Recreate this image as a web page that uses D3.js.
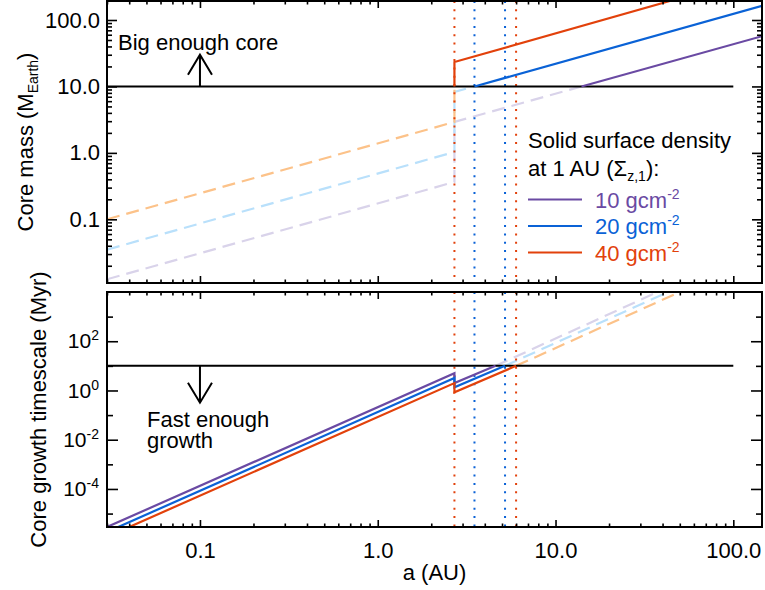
<!DOCTYPE html>
<html>
<head>
<meta charset="utf-8">
<script src="https://cdn.jsdelivr.net/npm/d3@7"></script>
<style>
body { margin: 0; background: #fff; }
svg text { font-family: Helvetica, "Liberation Sans", Arial, sans-serif; fill: #000; }
</style>
</head>
<body>
<div id="chart"></div>
<script>
// axis ticks
const aTicks = [0.1, 1, 10, 100];
const aTickLabels = ['0.1', '1.0', '10.0', '100.0'];
const massTicks = [0.1, 1, 10, 100];
const massTickLabels = ['0.1', '1.0', '10.0', '100.0'];
const timeTicks = [1e-4, 1e-2, 1, 1e2];
const timeTickExps = ['-4', '-2', '0', '2'];
const timeMinorTicks = [1e-5, 1e-3, 1e-1, 10, 1e3];

// solid surface density at 1 AU (g cm^-2)
const sigmaNames = ['10', '20', '40'];

// core mass (M_Earth) vs a (AU); dashed = below 10 M_Earth
const massDashed10 = [[0.03, 0.0125], [2.7, 0.365], [2.7, 2.92], [14, 10]];
const massSolid10 = [[14, 10], [145, 57]];
const massDashed20 = [[0.03, 0.035], [2.7, 1.03], [2.7, 8.3], [3.5, 10]];
const massSolid20 = [[3.5, 10], [145, 163]];
const massDashed40 = [[0.03, 0.10], [2.7, 2.92], [2.7, 10]];
const massSolid40 = [[2.7, 10], [2.7, 23.3], [46, 200]];

// core growth timescale (Myr) vs a (AU); dashed = slower than 10 Myr
const timeSolid10 = [[0.030, 2.85e-6], [2.7, 5.0], [2.7, 2.0], [4.6, 10]];
const timeDashed10 = [[4.6, 10], [37.5, 1e4]];
const timeSolid20 = [[0.0347, 2.85e-6], [2.7, 3.2], [2.7, 1.35], [5.2, 10]];
const timeDashed20 = [[5.2, 10], [43, 1e4]];
const timeSolid40 = [[0.040, 2.85e-6], [2.7, 2.0], [2.7, 0.85], [6.0, 10]];
const timeDashed40 = [[6.0, 10], [50, 1e4]];

// dotted markers (AU) and which series they belong to
const markerA = [2.7, 3.5, 5.2, 6.0];
const markerSeries = ['40', '20', '20', '40'];

const massLimit = 10;   // M_Earth
const timeLimit = 10;   // Myr
const limitEnd = 100;   // AU

const colors = {'10': '#6a4aa3', '20': '#0a62d6', '40': '#e2410b'};
const faded = {'10': '#d9d3ea', '20': '#b9e0fb', '40': '#fcc289'};

const width = 765, height = 590;
const left = 107, right = 762;
const top1 = 1, bot1 = 283, top2 = 292, bot2 = 527;
const fontSize = 22;

const svg = d3.select('#chart').append('svg')
	.attr('width', width)
	.attr('height', height);

const x = d3.scaleLog().domain([0.03, 145]).range([left, right]);
const yMass = d3.scaleLog().domain([0.011, 200]).range([bot1, 0]);
const yTime = d3.scaleLog().domain([2.85e-6, 1e4]).range([bot2, top2]);

// clip each panel
const defs = svg.append('defs');
defs.append('clipPath').attr('id', 'clip1').append('rect')
	.attr('x', left).attr('y', top1).attr('width', right - left).attr('height', bot1 - top1);
defs.append('clipPath').attr('id', 'clip2').append('rect')
	.attr('x', left).attr('y', top2).attr('width', right - left).attr('height', bot2 - top2);

function drawPanel(id, y, y0, y1, dashed, solid, limit) {
	const g = svg.append('g');
	const plot = g.append('g').attr('clip-path', 'url(#' + id + ')');
	const line = d3.line().x(d => x(d[0])).y(d => y(d[1]));

	// faded dashed parts
	sigmaNames.forEach(s => {
		plot.append('path')
			.datum(dashed[s])
			.attr('d', line)
			.attr('fill', 'none')
			.attr('stroke', faded[s])
			.attr('stroke-width', 2.2)
			.attr('stroke-dasharray', '13,7');
	});

	// dotted vertical markers
	markerA.forEach((a, i) => {
		plot.append('line')
			.attr('x1', x(a)).attr('x2', x(a))
			.attr('y1', y0).attr('y2', y1)
			.attr('stroke', colors[markerSeries[i]])
			.attr('stroke-width', 2)
			.attr('stroke-dasharray', '2,6.3');
	});

	// threshold line
	plot.append('line')
		.attr('x1', left).attr('x2', x(limitEnd))
		.attr('y1', y(limit)).attr('y2', y(limit))
		.attr('stroke', '#000')
		.attr('stroke-width', 2);

	sigmaNames.forEach(s => {
		plot.append('path')
			.datum(solid[s])
			.attr('d', line)
			.attr('fill', 'none')
			.attr('stroke', colors[s])
			.attr('stroke-width', 2.2);
	});
	return g;
}

const g1 = drawPanel('clip1', yMass, top1, bot1,
	{'10': massDashed10, '20': massDashed20, '40': massDashed40},
	{'10': massSolid10, '20': massSolid20, '40': massSolid40}, massLimit);
const g2 = drawPanel('clip2', yTime, top2, bot2,
	{'10': timeDashed10, '20': timeDashed20, '40': timeDashed40},
	{'10': timeSolid10, '20': timeSolid20, '40': timeSolid40}, timeLimit);

// axes, IDL style with inward ticks on all four sides
const xMinor = x.ticks().filter(d => !aTicks.some(t => Math.abs(t - d) / t < 1e-6));

function styleAxis(sel) {
	sel.select('.domain').remove();
	sel.selectAll('line').attr('stroke', '#000').attr('stroke-width', 1.6);
	sel.attr('font-family', null).attr('font-size', fontSize);
}

function xAxes(g, y0, y1, labels) {
	g.append('g').attr('transform', 'translate(0,' + y1 + ')')
		.call(d3.axisBottom(x).tickValues(aTicks).tickSize(-7).tickPadding(15)
			.tickFormat((d, i) => labels ? aTickLabels[i] : ''))
		.call(styleAxis);
	g.append('g').attr('transform', 'translate(0,' + y1 + ')')
		.call(d3.axisBottom(x).tickValues(xMinor).tickSize(-3.5).tickFormat(''))
		.call(styleAxis);
	g.append('g').attr('transform', 'translate(0,' + y0 + ')')
		.call(d3.axisTop(x).tickValues(aTicks).tickSize(-7).tickFormat(''))
		.call(styleAxis);
	g.append('g').attr('transform', 'translate(0,' + y0 + ')')
		.call(d3.axisTop(x).tickValues(xMinor).tickSize(-3.5).tickFormat(''))
		.call(styleAxis);
}
xAxes(g1, top1, bot1, false);
xAxes(g2, top2, bot2, true);

// core mass y axes
const massMinor = yMass.ticks().filter(d => !massTicks.some(t => Math.abs(t - d) / t < 1e-6));
g1.append('g').attr('transform', 'translate(' + left + ',0)')
	.call(d3.axisLeft(yMass).tickValues(massTicks).tickSize(-10).tickPadding(7)
		.tickFormat((d, i) => massTickLabels[i]))
	.call(styleAxis);
g1.append('g').attr('transform', 'translate(' + left + ',0)')
	.call(d3.axisLeft(yMass).tickValues(massMinor).tickSize(-5).tickFormat(''))
	.call(styleAxis);
g1.append('g').attr('transform', 'translate(' + right + ',0)')
	.call(d3.axisRight(yMass).tickValues(massTicks).tickSize(-10).tickFormat(''))
	.call(styleAxis);
g1.append('g').attr('transform', 'translate(' + right + ',0)')
	.call(d3.axisRight(yMass).tickValues(massMinor).tickSize(-5).tickFormat(''))
	.call(styleAxis);

// timescale y axes
const timeAxis = g2.append('g').attr('transform', 'translate(' + left + ',0)')
	.call(d3.axisLeft(yTime).tickValues(timeTicks).tickSize(-11).tickPadding(8).tickFormat(''))
	.call(styleAxis);
timeAxis.selectAll('.tick text').each(function (d, i) {
	const t = d3.select(this).attr('font-size', 21);
	t.append('tspan').text('10');
	t.append('tspan').attr('dy', -8).attr('font-size', 14).text(timeTickExps[i]);
});
g2.append('g').attr('transform', 'translate(' + left + ',0)')
	.call(d3.axisLeft(yTime).tickValues(timeMinorTicks).tickSize(-6).tickFormat(''))
	.call(styleAxis);
g2.append('g').attr('transform', 'translate(' + right + ',0)')
	.call(d3.axisRight(yTime).tickValues(timeTicks).tickSize(-11).tickFormat(''))
	.call(styleAxis);
g2.append('g').attr('transform', 'translate(' + right + ',0)')
	.call(d3.axisRight(yTime).tickValues(timeMinorTicks).tickSize(-6).tickFormat(''))
	.call(styleAxis);

// frames
[[top1, bot1], [top2, bot2]].forEach(([y0, y1]) => {
	svg.append('rect')
		.attr('x', left).attr('y', y0)
		.attr('width', right - left).attr('height', y1 - y0)
		.attr('fill', 'none')
		.attr('stroke', '#000')
		.attr('stroke-width', 2);
});

// axis titles
svg.append('text')
	.attr('x', (left + right) / 2)
	.attr('y', 580)
	.attr('text-anchor', 'middle')
	.attr('font-size', fontSize)
	.text('a (AU)');

const t1 = svg.append('text')
	.attr('transform', 'translate(33,' + (top1 + bot1) / 2 + ') rotate(-90)')
	.attr('text-anchor', 'middle')
	.attr('font-size', fontSize);
t1.append('tspan').text('Core mass (M');
t1.append('tspan').attr('dy', 5).attr('font-size', 14).text('Earth');
t1.append('tspan').attr('dy', -5).text(')');

svg.append('text')
	.attr('transform', 'translate(46,' + (top2 + bot2) / 2 + ') rotate(-90)')
	.attr('text-anchor', 'middle')
	.attr('font-size', fontSize)
	.text('Core growth timescale (Myr)');

// arrows and notes
function arrow(xa, yFrom, yTo) {
	const dir = yTo < yFrom ? 1 : -1;
	const p = d3.path();
	p.moveTo(xa, yFrom); p.lineTo(xa, yTo);
	p.moveTo(xa - 12, yTo + dir * 20); p.lineTo(xa, yTo); p.lineTo(xa + 12, yTo + dir * 20);
	svg.append('path')
		.attr('d', p.toString())
		.attr('fill', 'none')
		.attr('stroke', '#000')
		.attr('stroke-width', 2);
}
arrow(x(0.1), yMass(massLimit), yMass(30));
arrow(x(0.1), yTime(timeLimit), yTime(0.32));

svg.append('text')
	.attr('x', 118).attr('y', 50)
	.attr('font-size', fontSize)
	.text('Big enough core');
const fast = svg.append('text')
	.attr('x', 147).attr('y', 427)
	.attr('font-size', fontSize);
fast.append('tspan').attr('x', 147).text('Fast enough');
fast.append('tspan').attr('x', 147).attr('dy', 21).text('growth');

// legend
const legend = svg.append('g');
legend.append('text').attr('x', 528).attr('y', 148)
	.attr('font-size', fontSize).text('Solid surface density');
const lt = legend.append('text').attr('x', 528).attr('y', 176).attr('font-size', fontSize);
lt.append('tspan').text('at 1 AU (\u03A3');
lt.append('tspan').attr('dy', 5).attr('font-size', 14).text('z,1');
lt.append('tspan').attr('dy', -5).text('):');

sigmaNames.forEach((s, i) => {
	const yy = 199.5 + i * 26.5;
	legend.append('line')
		.attr('x1', 528).attr('x2', 582)
		.attr('y1', yy).attr('y2', yy)
		.attr('stroke', colors[s])
		.attr('stroke-width', 2.2);
	const t = legend.append('text')
		.attr('x', 595).attr('y', yy + 8)
		.attr('font-size', fontSize)
		.style('fill', colors[s]);
	t.append('tspan').text(s + ' gcm');
	t.append('tspan').attr('dy', -9).attr('font-size', 14).text('-2');
});
</script>
</body>
</html>
